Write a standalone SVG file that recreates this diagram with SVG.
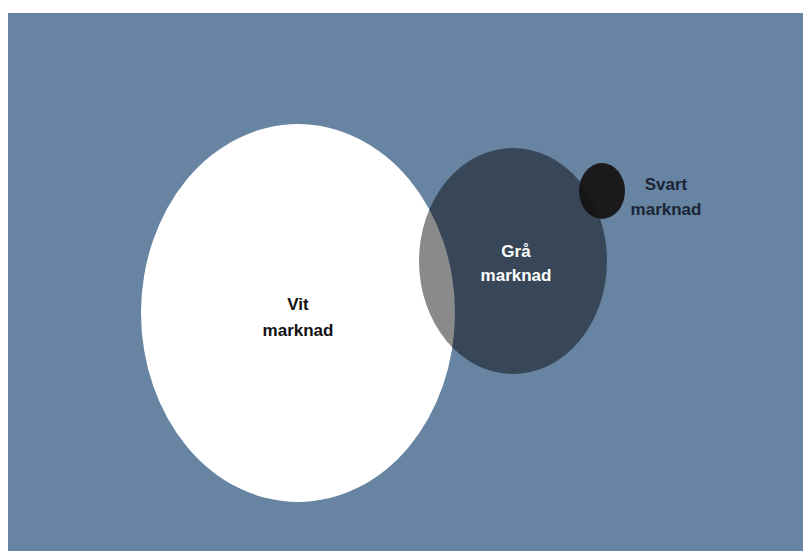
<svg xmlns="http://www.w3.org/2000/svg" width="804" height="551" viewBox="0 0 804 551">
<style>
text{font-family:"Liberation Sans",Arial,sans-serif;font-weight:bold;font-size:17px;text-anchor:middle}
</style>
<rect x="0" y="0" width="804" height="551" fill="#ffffff"/>
<rect x="8" y="13" width="795" height="538" fill="#6784a2"/>
<g id="vit">
<ellipse cx="298" cy="313" rx="157" ry="189" fill="#ffffff"/>
<text x="298" y="310" fill="#111111">Vit</text>
<text x="298" y="336" fill="#111111">marknad</text>
</g>
<g id="gra">
<ellipse cx="513" cy="261" rx="94" ry="113" fill="#000000" fill-opacity="0.46"/>
<text x="516" y="257" fill="#ffffff">Grå</text>
<text x="516" y="281" fill="#ffffff">marknad</text>
</g>
<g id="svart">
<ellipse cx="602" cy="191" rx="23" ry="28" fill="#141212" fill-opacity="0.93"/>
<text x="666" y="190" fill="#1b2435">Svart</text>
<text x="666" y="215" fill="#1b2435">marknad</text>
</g>
<g id="connectors"/>
</svg>
